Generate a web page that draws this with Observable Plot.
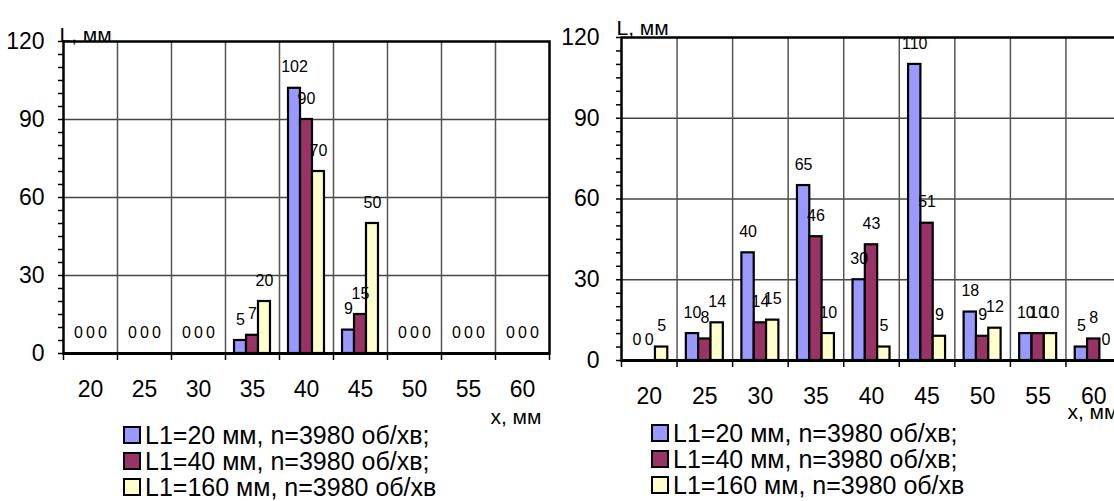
<!DOCTYPE html>
<html>
<head>
<meta charset="utf-8">
<script src="https://cdn.jsdelivr.net/npm/d3@7"></script>
<script src="https://cdn.jsdelivr.net/npm/@observablehq/plot@0.6"></script>
<style>
  html, body { margin: 0; padding: 0; background: #fff; overflow: hidden; }
  #root { position: relative; width: 1114px; height: 501px; overflow: hidden; font-family: "Liberation Sans", Arial, sans-serif; }
  .chart { position: absolute; top: 0; }
  .legend { position: absolute; font-size: 25px; line-height: 26px; color: #000; white-space: nowrap; }
  .legend .row { display: flex; align-items: center; height: 26px; }
  .legend .sw { width: 14px; height: 14px; border: 2px solid #000; margin-right: 4px; flex: none; }
</style>
</head>
<body>
<div id="root"></div>
<script>
// ---- data ----
const categories = [20, 25, 30, 35, 40, 45, 50, 55, 60];
const seriesNames = ["L1=20 мм, n=3980 об/хв;", "L1=40 мм, n=3980 об/хв;", "L1=160 мм, n=3980 об/хв"];
const seriesColors = ["#9999FF", "#993366", "#FFFFCC"];
const yTicks = [0, 30, 60, 90, 120];
const yLabel = "L, мм";
const xLabel = "x, мм";

// left chart
const leftS1 = [0, 0, 0, 5, 102, 9, 0, 0, 0];
const leftS2 = [0, 0, 0, 7, 90, 15, 0, 0, 0];
const leftS3 = [0, 0, 0, 20, 70, 50, 0, 0, 0];
// right chart
const rightS1 = [0, 10, 40, 65, 30, 110, 18, 10, 5];
const rightS2 = [0, 8, 14, 46, 43, 51, 9, 10, 8];
const rightS3 = [5, 14, 15, 10, 5, 9, 12, 10, 0];

const BW = 0.222; // bar width as fraction of category band

function rows(seriesArrays) {
  const out = [];
  categories.forEach((c, i) => {
    seriesArrays.forEach((arr, j) => out.push({i, j, cat: c, series: seriesNames[j], value: arr[i]}));
  });
  return out;
}

function chart(data, o) {
  const n = categories.length;
  return Plot.plot({
    width: o.width,
    height: o.height,
    marginLeft: o.ml,
    marginRight: o.mr,
    marginTop: o.mt,
    marginBottom: o.height - o.base,
    style: "max-width:none;background:white;font-family:'Liberation Sans',Arial,sans-serif;color:#000;overflow:visible;",
    x: {type: "linear", domain: [0, n], label: null},
    y: {domain: [0, 120], label: null},
    color: {domain: seriesNames, range: seriesColors},
    marks: [
      Plot.ruleY([30, 60, 90], {stroke: "#444", strokeWidth: 1.3}),
      Plot.ruleX(d3.range(1, n), {stroke: "#555", strokeWidth: 1.5}),
      Plot.rect(data, {
        x1: d => d.i + 0.5 + (d.j - 1.5) * BW,
        x2: d => d.i + 0.5 + (d.j - 0.5) * BW,
        y1: 0, y2: "value",
        fill: "series", stroke: "#000", strokeWidth: 2.2
      }),
      Plot.text(data, {
        x: d => d.i + 0.5 + (d.j - 1) * BW,
        y: "value",
        text: d => String(d.value),
        dy: -21, fontSize: 16, fill: "#000"
      }),
      Plot.frame({stroke: "#000", strokeWidth: 2.5}),
      Plot.ruleY([0], {stroke: "#000", strokeWidth: 3}),
      Plot.axisY({ticks: d3.range(0, 121, 5), tickSize: 5, tickFormat: () => "", strokeWidth: 1.5, label: null}),
      Plot.axisY({ticks: yTicks, tickSize: 0, tickPadding: o.yPad, fontSize: 23, tickFormat: d => String(d), label: null}),
      Plot.axisX({ticks: d3.range(0, n + 1), tickSize: 7, tickFormat: () => "", strokeWidth: 1.5, label: null}),
      Plot.axisX({ticks: d3.range(n).map(i => i + 0.5), tickSize: 0, tickPadding: o.xPad, fontSize: 23,
        tickFormat: v => String(categories[Math.floor(v)]), label: null}),
      Plot.text([yLabel], {frameAnchor: "top-left", textAnchor: "start", text: d => d, dx: o.yLdx, dy: o.yLdy, fontSize: 21}),
      Plot.text([xLabel], {frameAnchor: "bottom-right", textAnchor: "end", text: d => d, dx: o.xLdx, dy: o.xLdy, fontSize: 21})
    ]
  });
}

function legend(left, top) {
  const div = document.createElement("div");
  div.className = "legend";
  div.style.left = left + "px";
  div.style.top = top + "px";
  seriesNames.forEach((name, j) => {
    const r = document.createElement("div");
    r.className = "row";
    const sw = document.createElement("span");
    sw.className = "sw";
    sw.style.background = seriesColors[j];
    const t = document.createElement("span");
    t.textContent = name;
    r.appendChild(sw); r.appendChild(t);
    div.appendChild(r);
  });
  return div;
}

const root = document.getElementById("root");

const left = chart(rows([leftS1, leftS2, leftS3]), {
  width: 557, height: 501, ml: 63, mr: 8, mt: 41, base: 353,
  yPad: 19, xPad: 27, yLdx: -4, yLdy: -14, xLdx: -8, xLdy: 70
});
const lw = document.createElement("div");
lw.className = "chart"; lw.style.left = "0px";
lw.appendChild(left);
root.appendChild(lw);

const right = chart(rows([rightS1, rightS2, rightS3]), {
  width: 566, height: 501, ml: 66, mr: 0, mt: 37, base: 360,
  yPad: 22, xPad: 27, yLdx: -5, yLdy: -17, xLdx: -3, xLdy: 58
});
const rw = document.createElement("div");
rw.className = "chart"; rw.style.left = "555px";
rw.appendChild(right);
root.appendChild(rw);

root.appendChild(legend(123, 422));
root.appendChild(legend(651, 420));
</script>
</body>
</html>
